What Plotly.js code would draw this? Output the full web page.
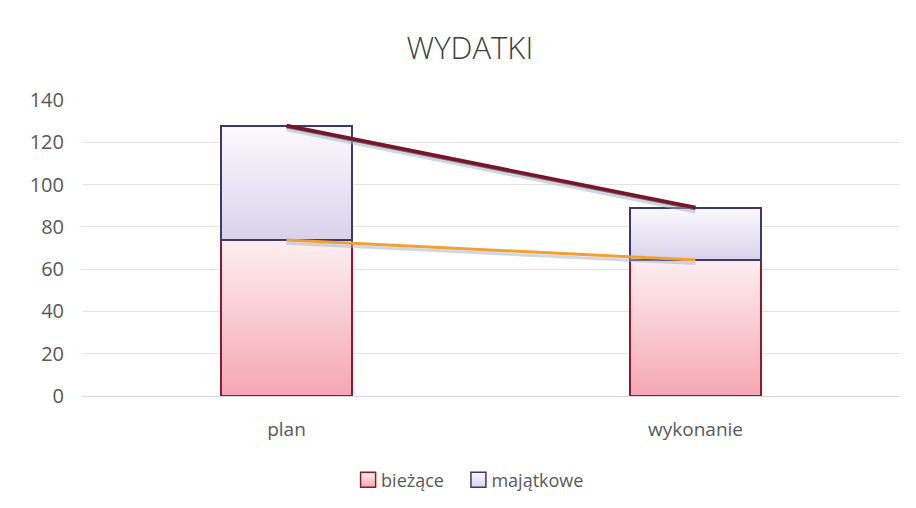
<!DOCTYPE html>
<html>
<head>
<meta charset="utf-8">
<script src="https://cdn.plot.ly/plotly-3.0.1.min.js"></script>
<style>
  html, body { margin: 0; padding: 0; background: #ffffff; }
  #chart { width: 916px; height: 508px; }
</style>
</head>
<body>
<div id="chart"></div>
<script>
// ---- data ----
const categories = ['plan', 'wykonanie'];
const biezace = [73.8, 64.3];
const majatkowe = [53.9, 24.6];
const totals = [127.7, 88.9];
const tickValues = [0, 20, 40, 60, 80, 100, 120, 140];
const titleText = 'WYDATKI';
const seriesNames = ['bieżące', 'majątkowe'];

const font = 'Open Sans, DejaVu Sans, sans-serif';

const traces = [
  {
    type: 'bar', name: seriesNames[0], x: categories, y: biezace,
    marker: { color: '#f8c4cb', line: { color: '#8e1b2c', width: 1.5 } },
    hoverinfo: 'skip'
  },
  {
    type: 'bar', name: seriesNames[1], x: categories, y: majatkowe,
    marker: { color: '#e8e2f2', line: { color: '#3c3a6c', width: 1.5 } },
    hoverinfo: 'skip'
  },
  // soft shadows of the lines (drawn on a slightly shifted overlay axis)
  {
    type: 'scatter', mode: 'lines', x: categories, y: totals, xaxis: 'x', yaxis: 'y2',
    line: { color: 'rgba(160,178,196,0.5)', width: 4 }, showlegend: false, hoverinfo: 'skip'
  },
  {
    type: 'scatter', mode: 'lines', x: categories, y: biezace, xaxis: 'x', yaxis: 'y2',
    line: { color: 'rgba(160,178,196,0.5)', width: 3 }, showlegend: false, hoverinfo: 'skip'
  },
  {
    type: 'scatter', mode: 'lines', x: categories, y: totals,
    line: { color: '#721829', width: 4.5 }, showlegend: false, hoverinfo: 'skip'
  },
  {
    type: 'scatter', mode: 'lines', x: categories, y: biezace,
    line: { color: '#f2a033', width: 3 }, showlegend: false, hoverinfo: 'skip'
  }
];

const layout = {
  width: 916, height: 508,
  paper_bgcolor: '#ffffff', plot_bgcolor: '#ffffff',
  margin: { l: 82, r: 16, t: 100, b: 112, autoexpand: false },
  barmode: 'stack',
  bargap: 0.68,
  title: {
    text: titleText,
    font: { family: font, size: 31, color: '#404040', weight: 300 },
    x: 0.513, xanchor: 'center', y: 0.905, yanchor: 'middle'
  },
  xaxis: {
    type: 'category', automargin: false,
    tickfont: { family: font, size: 19, color: '#595959' },
    showgrid: false, zeroline: false, showline: false, ticks: '',
    ticklabelstandoff: 20
  },
  yaxis: {
    range: [0, 140], tickvals: tickValues, automargin: false,
    tickfont: { family: font, size: 20, color: '#595959' },
    showgrid: true, gridcolor: '#e4e4e4', gridwidth: 1,
    zeroline: true, zerolinecolor: '#dadada', zerolinewidth: 1,
    showline: false, ticks: '', ticklabelstandoff: 17
  },
  yaxis2: {
    range: [1.6, 141.6], overlaying: 'y', visible: false
  },
  showlegend: true,
  legend: {
    orientation: 'h', x: 0.513, xanchor: 'center',
    yref: 'container', y: 0.055, yanchor: 'middle',
    font: { family: font, size: 18, color: '#595959' },
    traceorder: 'normal'
  }
};

Plotly.newPlot('chart', traces, layout, { displayModeBar: false, staticPlot: true }).then(function (gd) {
  const svgNS = 'http://www.w3.org/2000/svg';
  const svg = gd.querySelector('svg.main-svg');
  let defs = svg.querySelector('defs');
  if (!defs) { defs = document.createElementNS(svgNS, 'defs'); svg.insertBefore(defs, svg.firstChild); }
  function grad(id, top, bottom) {
    const g = document.createElementNS(svgNS, 'linearGradient');
    g.setAttribute('id', id);
    g.setAttribute('x1', '0'); g.setAttribute('y1', '0');
    g.setAttribute('x2', '0'); g.setAttribute('y2', '1');
    [[0, top], [1, bottom]].forEach(function (s) {
      const st = document.createElementNS(svgNS, 'stop');
      st.setAttribute('offset', String(s[0]));
      st.setAttribute('stop-color', s[1]);
      g.appendChild(st);
    });
    defs.appendChild(g);
  }
  grad('gradB', '#fdeef1', '#f5a7b2');
  grad('gradM', '#fbfafd', '#d9d1ec');
  const ids = ['gradB', 'gradM'];
  gd.querySelectorAll('.barlayer .trace').forEach(function (t, i) {
    t.querySelectorAll('path').forEach(function (p) { p.style.fill = 'url(#' + ids[i] + ')'; });
  });

  // tighten legend: bigger square symbols, small gap before text
  const items = Array.from(gd.querySelectorAll('.legend .traces'));
  const TEXT_X = 33;
  const lens = [];
  items.forEach(function (t, i) {
    t.querySelectorAll('.legendpoints path').forEach(function (p) {
      p.setAttribute('d', 'M7.5,7.5H-7.5V-7.5H7.5Z');
      p.style.fill = 'url(#' + ids[i] + ')';
    });
    const txt = t.querySelector('text.legendtext');
    if (txt) { txt.setAttribute('x', TEXT_X); lens.push(txt.getComputedTextLength()); }
    else lens.push(0);
  });
  if (items.length === 2) {
    const m0 = /translate\(([-\d.]+)[ ,]*([-\d.]*)\)/.exec(items[0].getAttribute('transform') || 'translate(0,0)');
    const x0 = parseFloat(m0[1]), y0 = parseFloat(m0[2] || 0);
    const x1 = x0 + TEXT_X + lens[0] + 27 - 12.5;
    items[1].setAttribute('transform', 'translate(' + x1 + ',' + y0 + ')');
    // recentre the whole legend on the target centre
    const s0 = items[0].querySelector('.legendpoints path').getBoundingClientRect();
    const t1 = items[1].querySelector('text.legendtext').getBoundingClientRect();
    const centre = (s0.left + t1.right) / 2;
    const target = 472;
    const leg = gd.querySelector('g.legend');
    const mL = /translate\(([-\d.]+)[ ,]*([-\d.]*)\)/.exec(leg.getAttribute('transform'));
    const lx = parseFloat(mL[1]) + (target - centre), ly = parseFloat(mL[2] || 0);
    leg.setAttribute('transform', 'translate(' + lx + ',' + ly + ')');
    gd.querySelectorAll('.legend .scrollbox').forEach(function (sb) { sb.removeAttribute('clip-path'); });
  }
});
</script>
</body>
</html>
